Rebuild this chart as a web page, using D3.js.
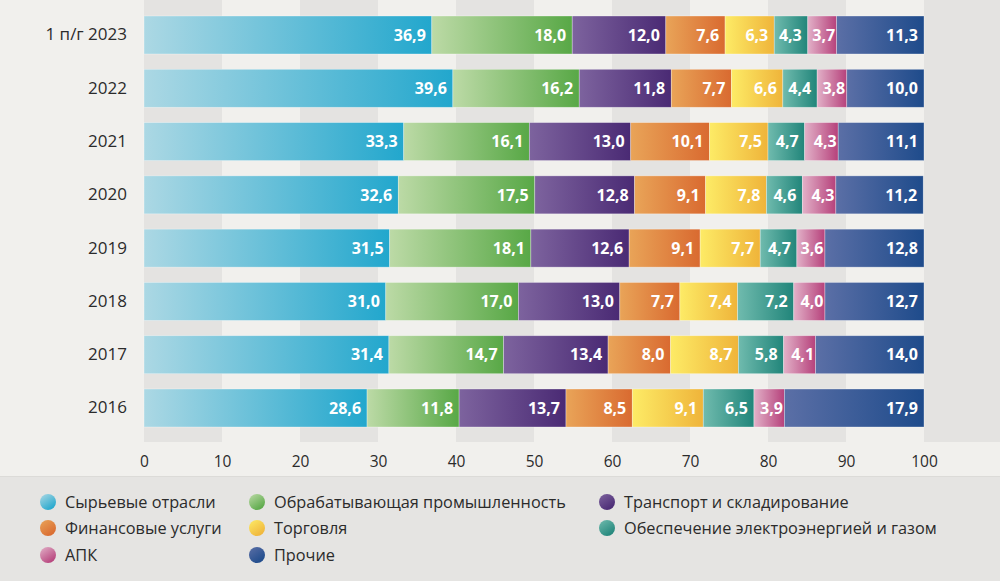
<!DOCTYPE html>
<html><head><meta charset="utf-8">
<script src="https://cdn.jsdelivr.net/npm/d3@7"></script>
<style>
html,body{margin:0;padding:0;background:#f1f0ed;}
svg{display:block;font-family:"Open Sans",sans-serif;}
</style></head>
<body><svg id="chart" width="1000" height="581"></svg>
<script>
const categories = ["1 п/г 2023","2022","2021","2020","2019","2018","2017","2016"];
const seriesNames = ["Сырьевые отрасли","Обрабатывающая промышленность","Транспорт и складирование","Финансовые услуги","Торговля","Обеспечение электроэнергией и газом","АПК","Прочие"];
const raw = [36.9,39.6,33.3,32.6,31.5,31.0,31.4,28.6];
const manuf = [18.0,16.2,16.1,17.5,18.1,17.0,14.7,11.8];
const transport = [12.0,11.8,13.0,12.8,12.6,13.0,13.4,13.7];
const finance = [7.6,7.7,10.1,9.1,9.1,7.7,8.0,8.5];
const trade = [6.3,6.6,7.5,7.8,7.7,7.4,8.7,9.1];
const energy = [4.3,4.4,4.7,4.6,4.7,7.2,5.8,6.5];
const agro = [3.7,3.8,4.3,4.3,3.6,4.0,4.1,3.9];
const other = [11.3,10.0,11.1,11.2,12.8,12.7,14.0,17.9];
const seriesValues = [raw,manuf,transport,finance,trade,energy,agro,other];
const xTicks = [0,10,20,30,40,50,60,70,80,90,100];
const gradStops = [
  ["#acd8e4","#22a7cd"],
  ["#bcdaa6","#58a846"],
  ["#7d639e","#4a2a74"],
  ["#e9a458","#d96a30"],
  ["#fdeb66","#efb43a"],
  ["#70bbae","#21857a"],
  ["#e2b1c8","#b6417b"],
  ["#5b6fa6","#1e4b8b"]
];
const legendLayout = [[0,0],[1,0],[2,0],[0,1],[1,1],[2,1],[0,2],[1,2]];

const svg = d3.select("#chart");
const W = 1000;
const x = d3.scaleLinear().domain([0,100]).range([144,924]).clamp(true);
const y = d3.scaleBand().domain(categories).range([16,427]).paddingInner(0.287).paddingOuter(0);

const defs = svg.append("defs");
gradStops.forEach((s,i)=>{
  const g = defs.append("linearGradient").attr("id","g"+i).attr("x1","0").attr("x2","1").attr("y1","0").attr("y2","0");
  g.append("stop").attr("offset","0").attr("stop-color",s[0]);
  g.append("stop").attr("offset","1").attr("stop-color",s[1]);
  const r = defs.append("linearGradient").attr("id","r"+i).attr("x1","0").attr("x2","0.7").attr("y1","0").attr("y2","1");
  r.append("stop").attr("offset","0").attr("stop-color",s[0]);
  r.append("stop").attr("offset","1").attr("stop-color",s[1]);
});

// background
svg.append("rect").attr("x",0).attr("y",0).attr("width",W).attr("height",581).attr("fill","#f1f0ed");
// stripes
const stripeBottom = 442;
const bands = xTicks.slice(0,-1).map((t,i)=>({a:t,b:xTicks[i+1],i}));
svg.append("g").selectAll("rect").data(bands.filter(d=>d.i%2===0)).join("rect")
  .attr("x",d=>x(d.a)).attr("y",0).attr("width",d=>x(d.b)-x(d.a)).attr("height",stripeBottom)
  .attr("fill","#e4e3e1");
svg.append("rect").attr("x",x(100)).attr("y",0).attr("width",W-x(100)).attr("height",stripeBottom).attr("fill","#e4e3e1");

// legend background
svg.append("rect").attr("x",0).attr("y",476).attr("width",W).attr("height",105).attr("fill","#e5e4e2");
svg.append("line").attr("x1",0).attr("x2",W).attr("y1",476.5).attr("y2",476.5).attr("stroke","#dcdbd8").attr("stroke-width",1);

// stacked data
const rows = categories.map((c,ci)=>{
  const o = {cat:c};
  seriesNames.forEach((s,si)=>o[s]=seriesValues[si][ci]);
  return o;
});
const stack = d3.stack().keys(seriesNames)(rows);

const layers = svg.append("g").selectAll("g").data(stack).join("g")
  .attr("fill",(d,i)=>`url(#g${i})`);
layers.selectAll("rect").data(d=>d).join("rect")
  .attr("x",d=>x(d[0])).attr("y",d=>y(d.data.cat))
  .attr("width",d=>Math.max(0,x(d[1])-x(d[0]))).attr("height",y.bandwidth())
  .attr("stroke","rgba(255,255,255,0.45)").attr("stroke-width",0.7);

// value labels
const lbl = svg.append("g").attr("font-size",16).attr("font-weight",700).attr("fill","#fff").attr("text-anchor","end");
stack.forEach((layer,li)=>{
  lbl.selectAll(null).data(layer).join("text")
    .attr("x",d=>x(d[1])-(li===6?1.5:6)).attr("y",d=>y(d.data.cat)+y.bandwidth()/2)
    .attr("dy","0.36em")
    .text(d=>d3.format(".1f")(d[1]-d[0]).replace(".",","));
});

// y axis
const yAxis = svg.append("g").attr("transform","translate(136,0)")
  .call(d3.axisLeft(y).tickSize(0).tickPadding(9));
yAxis.select(".domain").remove();
yAxis.selectAll("text").attr("font-size",17).attr("fill","#2b2b2b").attr("font-family","'Open Sans',sans-serif");

// x axis
const xAxis = svg.append("g").attr("transform","translate(0,452)")
  .call(d3.axisBottom(x).tickValues(xTicks).tickSize(0).tickPadding(4));
xAxis.select(".domain").remove();
xAxis.selectAll("text").attr("font-size",15.5).attr("fill","#2b2b2b").attr("font-family","'Open Sans',sans-serif");

// legend
const colX = [48,257,607];
const rowY = [502,528,555];
const leg = svg.append("g");
seriesNames.forEach((s,i)=>{
  const [c,r] = legendLayout[i];
  const g = leg.append("g").attr("transform",`translate(${colX[c]},${rowY[r]})`);
  g.append("circle").attr("r",8).attr("fill",`url(#r${i})`);
  g.append("text").attr("x",17).attr("dy","0.35em").attr("font-size",16.3).attr("fill","#2b2b2b").text(s);
});
</script></body></html>
